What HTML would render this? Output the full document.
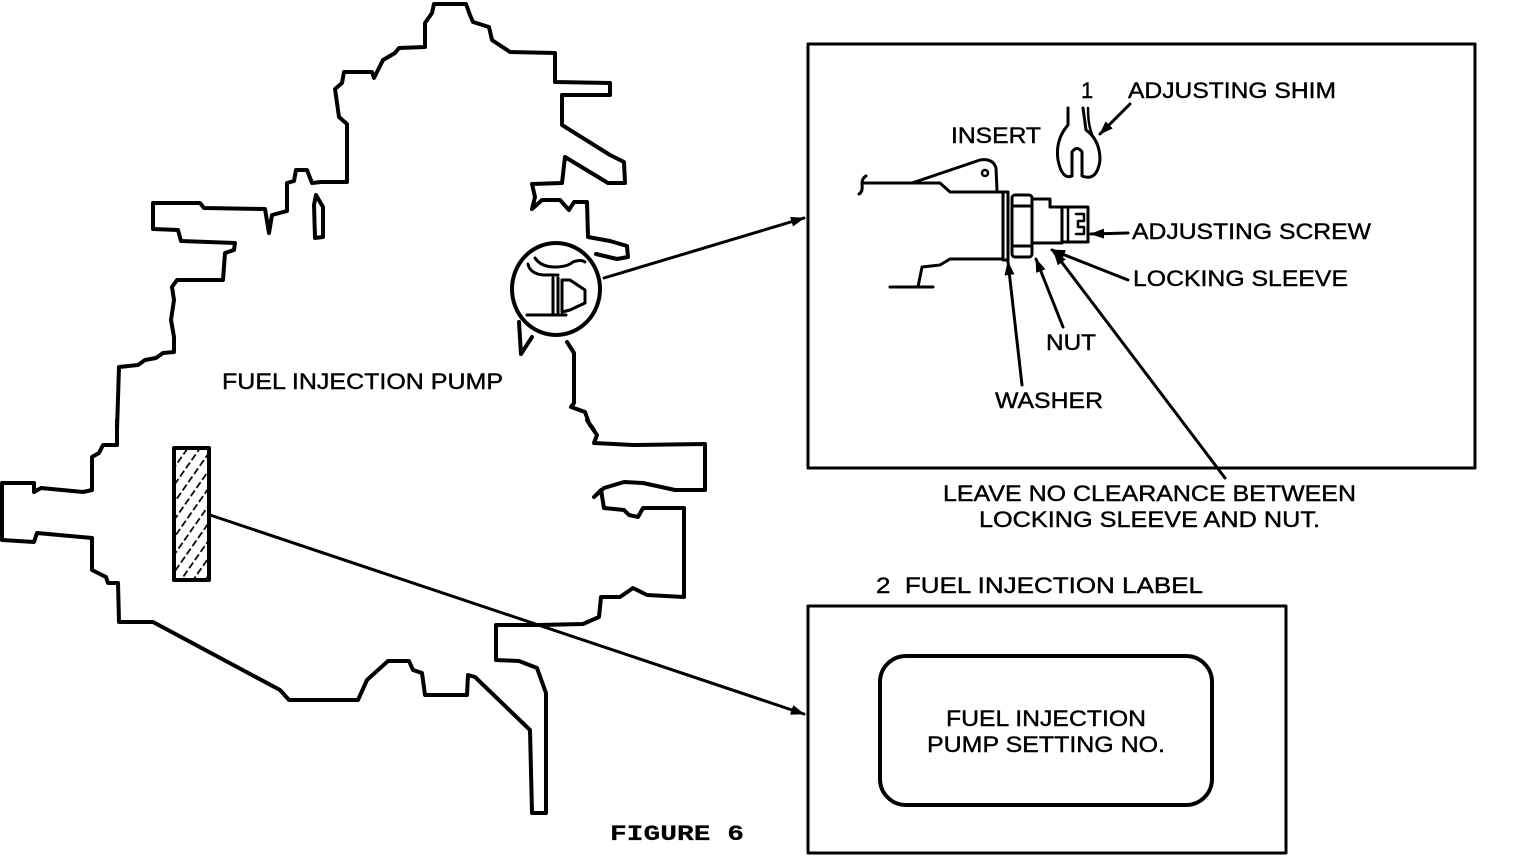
<!DOCTYPE html>
<html><head><meta charset="utf-8"><style>
html,body{margin:0;padding:0;background:#fff;}
svg{display:block;}
text{font-family:"Liberation Sans",sans-serif;font-size:22px;fill:#000;stroke:#000;stroke-width:0.4;}
.m{font-family:"Liberation Mono",monospace;font-size:22px;font-weight:bold;stroke-width:0.2;}
</style></head><body>
<svg width="1520" height="858" viewBox="0 0 1520 858" xmlns="http://www.w3.org/2000/svg">
<defs>
<marker id="ah" markerWidth="14" markerHeight="10" refX="13" refY="5" orient="auto" markerUnits="userSpaceOnUse" viewBox="0 0 14 10">
<path d="M0,0 L14,5 L0,10 Z" fill="#000"/></marker>
<pattern id="hat" width="10" height="10" patternUnits="userSpaceOnUse" patternTransform="rotate(35)">
<line x1="0" y1="0" x2="0" y2="10" stroke="#000" stroke-width="3.5" stroke-dasharray="7,3"/></pattern>
</defs>
<g fill="none" stroke="#000" stroke-width="4" stroke-linejoin="round" stroke-linecap="round">
<polyline points="117,430 119,367 138,365 145,360 156,358 163,353 174,352 174,337 171,320 174,300 172,287 177,280 223,280 225,253 234,250 235,243 181,241 178,230 153,229 153,203 200,203 204,208 265,209 269,233 272,215 287,211 287,183 294,181 296,170 307,170 312,183 321,182 347,182 347,124 339,117 335,89 342,83 344,72 372,72 374,78 383,60 395,53 399,48 425,47 425,23 432,13 434,4 466,4 470,15 473,22 489,27 492,40 510,52 555,53 555,82 610,83 610,95 562,95 562,125 610,155 624,162 625,183 608,183 565,157 562,183 532,184 535,197 532,209 542,200 560,200 569,210 574,202 587,202 588,237 610,241 627,246 628,257 617,259 596,254"/>
<path d="M316,195 L323,207 L323,237 L315,238 L314,205 Z"/>
<polyline points="117,420 117,445 103,445 99,453 92,457 92,490 83,492 41,488 34,492 34,483 2,483 2,540 34,542 37,533 92,538 92,570 106,577 108,583 118,583 119,622 153,622 280,690 289,700 358,700 367,680 388,661 409,661 413,670 422,673 425,695 467,695 468,675 475,677 530,730 532,813 546,813 546,693 537,668 519,661 496,660 496,625 539,625 583,624 599,617 601,597 620,597 633,588 647,595 684,597 684,508 643,508 638,517 629,515 624,510 604,508 601,490 594,497 604,488 624,482 643,483 675,490 705,490 705,444 633,445 594,443 597,435 590,425 587,420"/>
<polyline points="567,342 574,353 574,403 571,407 585,412 589,423 594,430"/>
<polyline points="519,322 521,354 532,337"/>
<ellipse cx="556" cy="289" rx="44" ry="46"/>
<path d="M535,258 q6,9 20,9 q12,0 18,-5 q8,-3 12,0" stroke-width="3"/>
<path d="M528,264 q2,10 16,11 h14" stroke-width="3"/>
<line x1="553" y1="278" x2="553" y2="314" stroke-width="3"/>
<line x1="558" y1="278" x2="558" y2="314" stroke-width="3"/>
<line x1="527" y1="315" x2="566" y2="315" stroke-width="3"/>
<path d="M562,280 L570,280 L585,290 L585,303 L570,310 L562,312 Z" stroke-width="3"/>
<rect x="174" y="448" width="35" height="132" fill="url(#hat)" stroke-width="4"/>
<line x1="604" y1="278" x2="804" y2="218" stroke-width="3" marker-end="url(#ah)"/>
<line x1="210" y1="515" x2="804" y2="714" stroke-width="3" marker-end="url(#ah)"/>
<rect x="808" y="44" width="667" height="424" stroke-width="3"/>
<rect x="808" y="606" width="478" height="247" stroke-width="3"/>
<rect x="880" y="656" width="332" height="149" rx="26" stroke-width="4"/>
<path d="M866,176 q-4,2 -4,8 q1,8 -3,10" stroke-width="3"/>
<line x1="864" y1="183" x2="912" y2="183" stroke-width="3"/>
<path d="M912,183 L980,160 Q993,158 996,168 L997,190" stroke-width="3"/>
<path d="M912,183 L940,183 L950,192 L1003,192" stroke-width="3"/>
<circle cx="985" cy="173" r="3" stroke-width="2.5"/>
<rect x="1003" y="192" width="5" height="68" stroke-width="3"/>
<rect x="1012" y="195" width="20" height="62" rx="3" stroke-width="3"/>
<line x1="1012" y1="206" x2="1032" y2="206" stroke-width="3"/>
<line x1="1012" y1="246" x2="1032" y2="246" stroke-width="3"/>
<path d="M1032,199 L1050,199 L1050,207 L1062,207 L1062,243 L1032,243" stroke-width="3"/>
<rect x="1062" y="207" width="26" height="35" stroke-width="3"/>
<line x1="1068" y1="207" x2="1068" y2="242" stroke-width="2.5"/>
<path d="M1076,214 h8 v7 h-6 v6 h6 v7 h-8" stroke-width="2.5"/>
<path d="M1003,259 L950,259 L940,265 L922,267 L918,287" stroke-width="3"/>
<line x1="890" y1="287" x2="933" y2="287" stroke-width="3"/>
<path d="M1068,108 L1068,125 Q1055,140 1058,160 Q1062,180 1072,176 L1072,152 Q1077,145 1082,152 L1082,176 Q1097,182 1100,160 Q1100,140 1086,130 L1083,108" stroke-width="3"/>
<path d="M1088,108 Q1088,130 1095,140" stroke-width="2.5"/>
<line x1="1130" y1="104" x2="1100" y2="134" stroke-width="3" marker-end="url(#ah)"/>
<line x1="1128" y1="233" x2="1091" y2="234" stroke-width="3" marker-end="url(#ah)"/>
<line x1="1128" y1="280" x2="1052" y2="250" stroke-width="3" marker-end="url(#ah)"/>
<line x1="1063" y1="327" x2="1036" y2="259" stroke-width="3" marker-end="url(#ah)"/>
<line x1="1022" y1="385" x2="1008" y2="262" stroke-width="3" marker-end="url(#ah)"/>
<line x1="1225" y1="478" x2="1054" y2="252" stroke-width="3" marker-end="url(#ah)"/>
</g>
<text x="222" y="389" textLength="281" lengthAdjust="spacingAndGlyphs">FUEL INJECTION PUMP</text>
<text x="1081" y="98">1</text>
<text x="1128" y="98" textLength="208" lengthAdjust="spacingAndGlyphs">ADJUSTING SHIM</text>
<text x="951" y="143" textLength="90" lengthAdjust="spacingAndGlyphs">INSERT</text>
<text x="1132" y="239" textLength="239" lengthAdjust="spacingAndGlyphs">ADJUSTING SCREW</text>
<text x="1133" y="286" textLength="215" lengthAdjust="spacingAndGlyphs">LOCKING SLEEVE</text>
<text x="1046" y="350" textLength="50" lengthAdjust="spacingAndGlyphs">NUT</text>
<text x="995" y="408" textLength="108" lengthAdjust="spacingAndGlyphs">WASHER</text>
<text x="943" y="501" textLength="413" lengthAdjust="spacingAndGlyphs">LEAVE NO CLEARANCE BETWEEN</text>
<text x="979" y="527" textLength="341" lengthAdjust="spacingAndGlyphs">LOCKING SLEEVE AND NUT.</text>
<text x="876" y="593" textLength="327" lengthAdjust="spacingAndGlyphs">2&#160;&#160;FUEL INJECTION LABEL</text>
<text x="946" y="726" textLength="200" lengthAdjust="spacingAndGlyphs">FUEL INJECTION</text>
<text x="927" y="752" textLength="238" lengthAdjust="spacingAndGlyphs">PUMP SETTING NO.</text>
<text class="m" x="610" y="840" textLength="134" lengthAdjust="spacingAndGlyphs">FIGURE 6</text>
</svg>
</body></html>
